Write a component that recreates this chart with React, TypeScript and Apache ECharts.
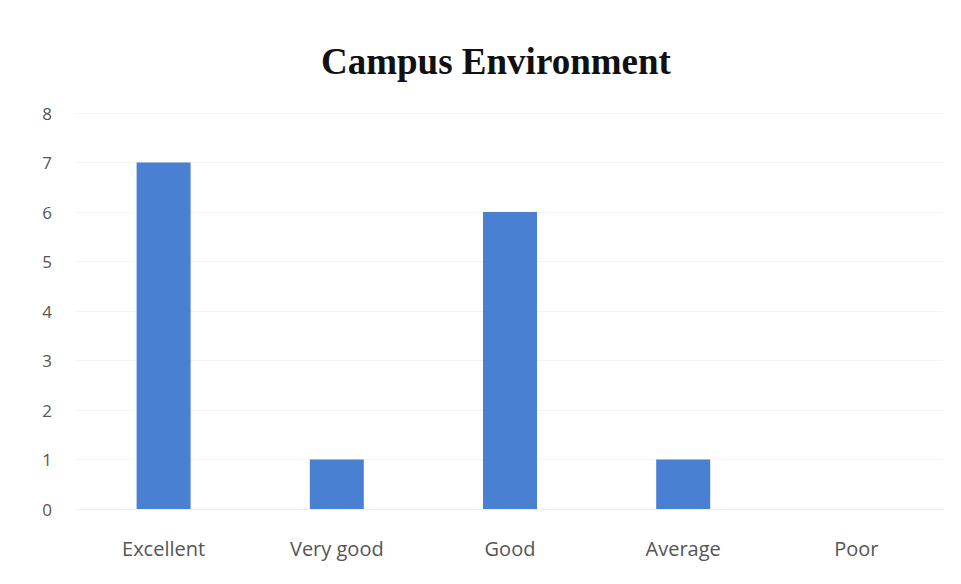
import React, { useEffect, useRef } from "react";
import * as echarts from "echarts";

const categories = ["Excellent", "Very good", "Good", "Average", "Poor"];
const values = [7, 1, 6, 1, 0];
const yTicks = [0, 1, 2, 3, 4, 5, 6, 7, 8];

export default function App() {
  const ref = useRef<HTMLDivElement>(null);
  useEffect(() => {
    if (!ref.current) return;
    const chart = echarts.init(ref.current, undefined, { renderer: "svg" });
    chart.setOption({
      animation: false,
      backgroundColor: "#ffffff",
      title: {
        text: "Campus Environment",
        left: 316,
        top: 38,
        textStyle: {
          fontFamily: "Liberation Serif",
          fontWeight: "bold",
          fontSize: 37,
          color: "#111111",
        },
      },
      grid: { left: 77, right: 18, top: 113, bottom: 75 },
      xAxis: {
        type: "category",
        data: categories,
        axisLine: { show: true, lineStyle: { color: "#eeeeee" } },
        axisTick: { show: false },
        axisLabel: {
          margin: 29,
          fontFamily: "Open Sans",
          fontSize: 20,
          color: "#555555",
        },
      },
      yAxis: {
        type: "value",
        min: yTicks[0],
        max: yTicks[yTicks.length - 1],
        interval: 1,
        axisLine: { show: false },
        axisTick: { show: false },
        splitLine: { show: true, lineStyle: { color: "#f3f3f3", width: 1 } },
        axisLabel: {
          margin: 25,
          fontFamily: "Open Sans",
          fontSize: 17,
          color: "#555555",
        },
      },
      series: [
        {
          type: "bar",
          data: values,
          barWidth: 54,
          itemStyle: { color: "#4a80d2" },
        },
      ],
    });
    return () => chart.dispose();
  }, []);
  return (
    <div
      ref={ref}
      style={{ position: "fixed", left: 0, top: 0, width: 961, height: 584 }}
    />
  );
}
